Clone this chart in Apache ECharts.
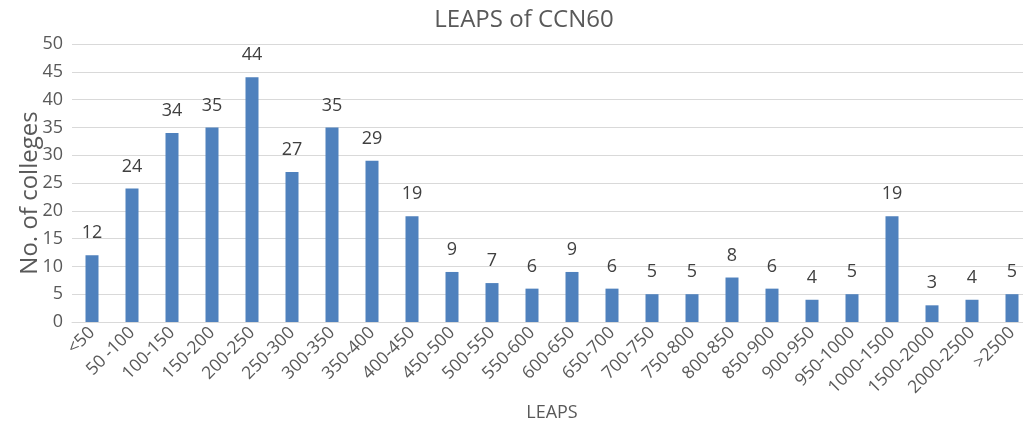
<!DOCTYPE html>
<html>
<head>
<meta charset="utf-8">
<script src="https://cdn.jsdelivr.net/npm/echarts@6/dist/echarts.min.js"></script>
<style>
  html, body { margin: 0; padding: 0; background: #fff; }
  #main { width: 1023px; height: 421px; }
</style>
</head>
<body>
<div id="main"></div>
<script>
// 数据
var categories = ["<50", "50 -100", "100-150", "150-200", "200-250", "250-300", "300-350", "350-400",
  "400-450", "450-500", "500-550", "550-600", "600-650", "650-700", "700-750", "750-800",
  "800-850", "850-900", "900-950", "950-1000", "1000-1500", "1500-2000", "2000-2500", ">2500"];
var colleges = [12, 24, 34, 35, 44, 27, 35, 29, 19, 9, 7, 6, 9, 6, 5, 5, 8, 6, 4, 5, 19, 3, 4, 5];

var font = "'Open Sans', 'Noto Sans', sans-serif";

var chart = echarts.init(document.getElementById("main"));
chart.setOption({
  animation: false,
  title: {
    text: "LEAPS of CCN60",
    left: 519,
    top: 3,
    textAlign: "center",
    textStyle: { fontFamily: font, fontSize: 24, fontWeight: "normal", color: "#595959" },
  },
  grid: { left: 72, top: 44, width: 960, height: 278, outerBoundsMode: "none" },
  xAxis: {
    type: "category",
    data: categories,
    name: "LEAPS",
    nameLocation: "middle",
    nameGap: 82,
    nameMoveOverlap: false,
    nameTextStyle: { fontFamily: font, fontSize: 18, color: "#595959", verticalAlign: "top" },
    axisLine: { lineStyle: { color: "#d9d9d9", width: 1 } },
    axisTick: { show: false },
    axisLabel: { rotate: 45, interval: 0, fontFamily: font, fontSize: 17.5, color: "#595959", margin: 8 },
  },
  yAxis: {
    type: "value",
    min: 0,
    max: 50,
    interval: 5,
    name: "No. of colleges",
    nameLocation: "middle",
    nameGap: 30,
    nameMoveOverlap: false,
    nameTextStyle: { fontFamily: font, fontSize: 24, color: "#595959", padding: [0, 20, 0, 0] },
    axisLine: { show: false },
    axisTick: { show: false },
    axisLabel: { fontFamily: font, fontSize: 18, color: "#595959", margin: 9 },
    splitLine: { lineStyle: { color: "#d9d9d9", width: 1 } },
  },
  series: [
    {
      type: "bar",
      data: colleges,
      barWidth: 13,
      itemStyle: { color: "#4f81bd" },
      label: {
        show: true,
        position: "top",
        distance: 13,
        fontFamily: font,
        fontSize: 18,
        color: "#404040",
      },
    },
  ],
});
</script>
</body>
</html>
